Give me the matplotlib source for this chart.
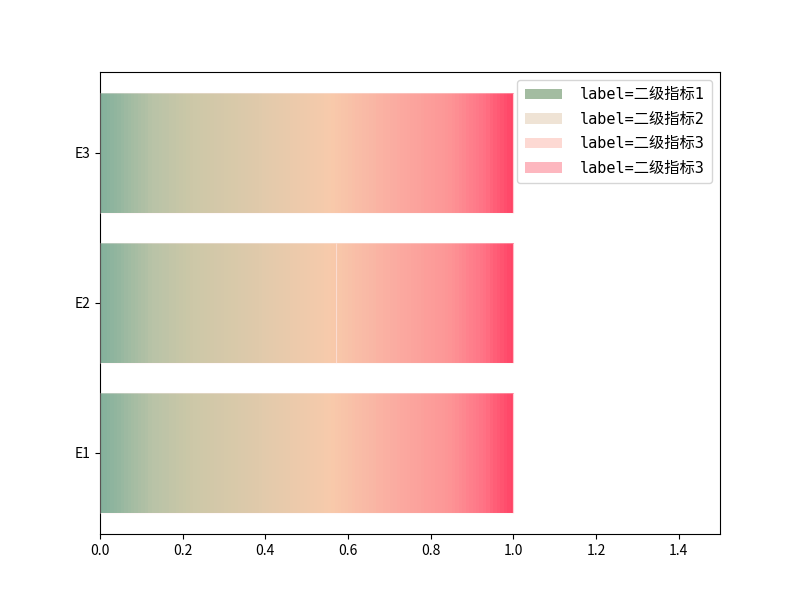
import numpy as np
import matplotlib
matplotlib.use("Agg")
import matplotlib.pyplot as plt
from matplotlib.colors import LinearSegmentedColormap

plt.rcParams['font.family'] = ['Noto Sans CJK SC', 'DejaVu Sans']
plt.rcParams['axes.unicode_minus'] = False

categories = ['E1', 'E2', 'E3']
series_labels = ['label=二级指标1', 'label=二级指标2', 'label=二级指标3', 'label=二级指标3']
series_values = [
    [1.00, 0.57, 1.00],
    [0.00, 0.43, 0.00],
    [0.00, 0.00, 0.00],
    [0.00, 0.00, 0.00],
]
series_colors = ['#a3bca1', '#efe3d5', '#fdd9d3', '#fdb7bf']

grad_cmap = LinearSegmentedColormap.from_list(
    'grad',
    [(0.0, '#84b19c'), (0.12, '#b8c3a7'), (0.22, '#cdc8a8'), (0.38, '#e0caab'),
     (0.56, '#f8caab'), (0.72, '#fbaba1'), (0.85, '#fd9596'), (0.93, '#ff7486'),
     (1.0, '#ff4466')])

fig, ax = plt.subplots(figsize=(8, 6), dpi=100)
y = np.arange(len(categories))
left = np.zeros(len(categories))
totals = np.sum(np.array(series_values), axis=0)
grad = np.linspace(0, 1, 120).reshape(1, -1)

for vals, lab, col in zip(series_values, series_labels, series_colors):
    bars = ax.barh(y, vals, left=left, height=0.8, color=col, label=lab)
    for i, b in enumerate(bars):
        if vals[i] <= 0:
            continue
        by = b.get_y()
        bh = b.get_height()
        im = ax.imshow(grad, cmap=grad_cmap, aspect='auto', interpolation='nearest',
                       extent=(0, totals[i], by, by + bh), zorder=2)
        im.set_clip_path(b)
    ax.barh(y, vals, left=left, height=0.8, facecolor='none',
            edgecolor=(1, 0.93, 0.93, 0.35), linewidth=0.8, zorder=3)
    left = left + np.array(vals)

ax.set_yticks(y)
ax.set_yticklabels(categories)
ax.set_xlim(0, 1.5)
ax.set_ylim(-0.54, 2.54)
ax.set_aspect('auto')
ax.legend(loc='upper right', prop={'family': ['DejaVu Sans Mono', 'Noto Sans CJK SC'], 'size': 11},
          handlelength=2.4, handletextpad=1.2, labelspacing=0.62, borderpad=0.5)

fig.savefig('out.png', dpi=100)
